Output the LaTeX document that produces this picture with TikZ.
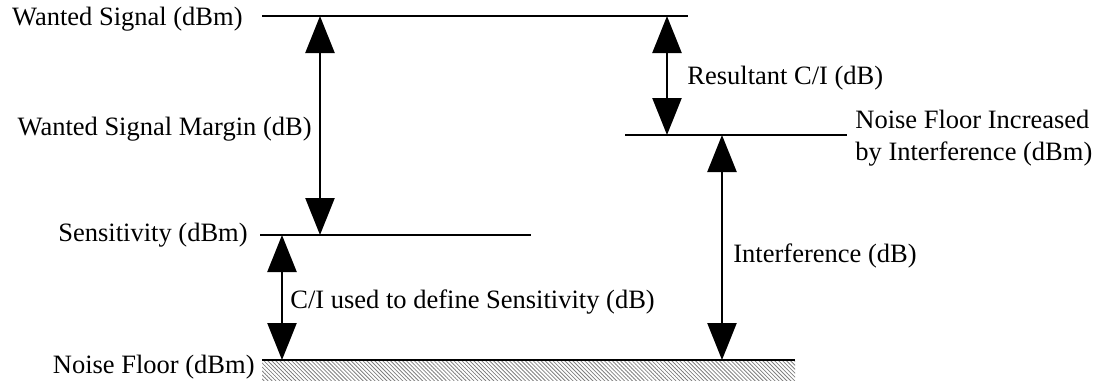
\documentclass[tikz,border=0pt]{standalone}
\usepackage{fontspec}
\setmainfont{Liberation Serif}
\usetikzlibrary{arrows.meta,patterns.meta}

\begin{document}
\begin{tikzpicture}[x=0.5pt,y=-0.5pt,>={Triangle[width=14.5pt,length=18.5pt]},
  level/.style={line width=1.4pt},
  gap/.style={<->,line width=1.2pt},
  label/.style={font=\fontsize{13.25}{16}\selectfont,inner sep=0pt}]
  \useasboundingbox (0,0) rectangle (1098,382);

  % signal levels
  \coordinate (ws1) at (262,16);   \coordinate (ws2) at (688,16);
  \coordinate (sens1) at (260,235); \coordinate (sens2) at (531,235);
  \coordinate (nf1) at (262,360);  \coordinate (nf2) at (795,360);
  \coordinate (nfi1) at (625,135); \coordinate (nfi2) at (847,135);
  \coordinate (hatch) at (795,380);

  % ends of the margins
  \coordinate (m1) at (320,16);  \coordinate (m2) at (320,235);
  \coordinate (s1) at (282,235); \coordinate (s2) at (282,360);
  \coordinate (r1) at (667,16);  \coordinate (r2) at (667,135);
  \coordinate (i1) at (722,135); \coordinate (i2) at (722,360);

  \fill[pattern={Lines[angle=-45,distance=1.4pt,line width=0.4pt]},pattern color=gray]
    (nf1) rectangle (hatch);

  \draw[level] (ws1) -- (ws2);
  \draw[level] (sens1) -- (sens2);
  \draw[level] (nf1) -- (nf2);
  \draw[level] (nfi1) -- (nfi2);

  \draw[gap] (m1) -- (m2);
  \draw[gap] (s1) -- (s2);
  \draw[gap] (r1) -- (r2);
  \draw[gap] (i1) -- (i2);

  \node[label,anchor=base east] (wanted) at (243,25) {Wanted Signal (dBm)};
  \node[label,anchor=base east] (margin) at (312,135) {Wanted Signal Margin (dB)};
  \node[label,anchor=base east] (sens) at (248,241) {Sensitivity (dBm)};
  \node[label,anchor=base east] (floor) at (255,373) {Noise Floor (dBm)};
  \node[label,anchor=base west] (cisens) at (290,308) {C/I used to define Sensitivity (dB)};
  \node[label,anchor=base west] (interf) at (733,262) {Interference (dB)};
  \node[label,anchor=base west] (result) at (687,84) {Resultant C/I (dB)};
  \node[label,anchor=base west,align=left] (raised) at (855,160)
    {Noise Floor Increased\\by Interference (dBm)};
\end{tikzpicture}
\end{document}
